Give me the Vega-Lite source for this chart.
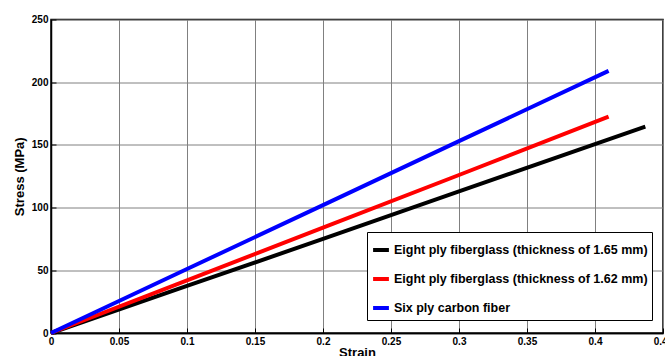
{
  "$schema": "https://vega.github.io/schema/vega-lite/v6.json",
  "width": 612,
  "height": 313.5,
  "autosize": {"type": "none"},
  "padding": {"left": 51, "top": 19.5, "right": 2, "bottom": 23},
  "background": "white",
  "config": {
    "font": "Liberation Sans",
    "view": {"stroke": "black", "strokeWidth": 1.5},
    "axis": {
      "labelFont": "Liberation Sans",
      "labelFontWeight": "bold",
      "labelFontSize": 10,
      "labelColor": "black",
      "titleFont": "Liberation Sans",
      "titleFontWeight": "bold",
      "titleFontSize": 13,
      "titleColor": "black",
      "domainColor": "black",
      "domainWidth": 1.5,
      "gridColor": "#808080",
      "gridWidth": 1,
      "gridOpacity": 1,
      "tickColor": "black",
      "tickSize": -5,
      "tickWidth": 1
    }
  },
  "data": {
    "values": [
      {"strain": 0, "stress": 0, "series": "Eight ply fiberglass (thickness of 1.65 mm)"},
      {"strain": 0.1, "stress": 37.5, "series": "Eight ply fiberglass (thickness of 1.65 mm)"},
      {"strain": 0.2, "stress": 75, "series": "Eight ply fiberglass (thickness of 1.65 mm)"},
      {"strain": 0.3, "stress": 113, "series": "Eight ply fiberglass (thickness of 1.65 mm)"},
      {"strain": 0.437, "stress": 164.5, "series": "Eight ply fiberglass (thickness of 1.65 mm)"},
      {"strain": 0, "stress": 0, "series": "Eight ply fiberglass (thickness of 1.62 mm)"},
      {"strain": 0.1, "stress": 42, "series": "Eight ply fiberglass (thickness of 1.62 mm)"},
      {"strain": 0.2, "stress": 84, "series": "Eight ply fiberglass (thickness of 1.62 mm)"},
      {"strain": 0.3, "stress": 126, "series": "Eight ply fiberglass (thickness of 1.62 mm)"},
      {"strain": 0.41, "stress": 172.5, "series": "Eight ply fiberglass (thickness of 1.62 mm)"},
      {"strain": 0, "stress": 0, "series": "Six ply carbon fiber"},
      {"strain": 0.1, "stress": 51, "series": "Six ply carbon fiber"},
      {"strain": 0.2, "stress": 102, "series": "Six ply carbon fiber"},
      {"strain": 0.3, "stress": 153, "series": "Six ply carbon fiber"},
      {"strain": 0.41, "stress": 209, "series": "Six ply carbon fiber"}
    ]
  },
  "mark": {"type": "line", "strokeWidth": 4, "clip": false},
  "encoding": {
    "x": {
      "field": "strain",
      "type": "quantitative",
      "title": "Strain",
      "scale": {"domain": [0, 0.45], "nice": false, "zero": false},
      "axis": {"values": [0, 0.05, 0.1, 0.15, 0.2, 0.25, 0.3, 0.35, 0.4, 0.45], "format": "~g", "labelPadding": 8, "titlePadding": 0, "labelOverlap": false, "labelFlush": false}
    },
    "y": {
      "field": "stress",
      "type": "quantitative",
      "title": "Stress (MPa)",
      "scale": {"domain": [0, 250], "nice": false},
      "axis": {"values": [0, 50, 100, 150, 200, 250], "labelPadding": 8, "titlePadding": 5, "labelOverlap": false, "labelFlush": false}
    },
    "color": {
      "field": "series",
      "type": "nominal",
      "scale": {
        "domain": ["Eight ply fiberglass (thickness of 1.65 mm)", "Eight ply fiberglass (thickness of 1.62 mm)", "Six ply carbon fiber"],
        "range": ["#000000", "#ff0000", "#0000ff"]
      },
      "legend": {
        "title": " ",
        "titleFontSize": 1,
        "titlePadding": 3,
        "orient": "none",
        "legendX": 316,
        "legendY": 212.5,
        "fillColor": "white",
        "strokeColor": "black",
        "padding": 4,
        "symbolType": "stroke",
        "symbolStrokeWidth": 4,
        "symbolSize": 250,
        "labelFont": "Liberation Sans",
        "labelFontWeight": "bold",
        "labelFontSize": 12.5,
        "labelColor": "black",
        "labelLimit": 400,
        "rowPadding": 11,
        "labelOffset": 3
      }
    }
  }
}
